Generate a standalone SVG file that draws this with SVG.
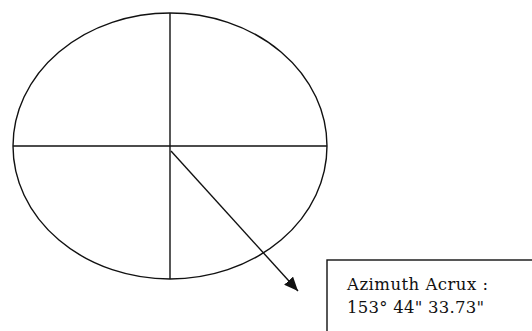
<svg xmlns="http://www.w3.org/2000/svg" width="532" height="331" viewBox="0 0 532 331">
<style>
.ln{stroke:#111;stroke-width:1.4;fill:none}
.t{font-family:"DejaVu Serif","Liberation Serif",serif;font-size:16.5px;fill:#111}
</style>
<defs>
<marker id="ah" viewBox="0 0 14 12" refX="14" refY="6" markerWidth="14" markerHeight="12" markerUnits="userSpaceOnUse" orient="auto">
<path d="M0,0 L14,6 L0,12 Z" fill="#111"/>
</marker>
</defs>
<rect width="532" height="331" fill="#fff"/>
<g id="circle">
<ellipse class="ln" cx="170" cy="146" rx="157" ry="133"/>
<line class="ln" x1="170" y1="13" x2="170" y2="279"/>
<line class="ln" x1="13" y1="146" x2="327" y2="146"/>
</g>
<g id="connectors">
<line class="ln" x1="171" y1="151" x2="298" y2="291" marker-end="url(#ah)"/>
</g>
<g id="label">
<rect x="327" y="260" width="220" height="100" fill="#fff" stroke="#111" stroke-width="1.4"/>
<text class="t" x="347" y="290" textLength="141" lengthAdjust="spacing">Azimuth Acrux :</text>
<text class="t" x="347" y="313" textLength="137" lengthAdjust="spacing">153° 44" 33.73"</text>
</g>
</svg>
